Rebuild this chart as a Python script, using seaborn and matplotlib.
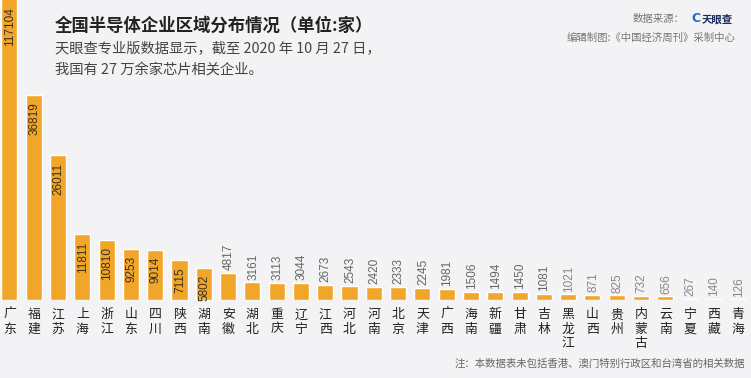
import matplotlib
matplotlib.use('Agg')
import matplotlib.pyplot as plt
import seaborn as sns
import pandas as pd

# ------------------ DATA ------------------
provinces = ["广东", "福建", "江苏", "上海", "浙江", "山东", "四川", "陕西", "湖南",
             "安徽", "湖北", "重庆", "辽宁", "江西", "河北", "河南", "北京", "天津",
             "广西", "海南", "新疆", "甘肃", "吉林", "黑龙江", "山西", "贵州", "内蒙古",
             "云南", "宁夏", "西藏", "青海"]
counts = [117104, 36819, 26011, 11811, 10810, 9253, 9014, 7115, 5802,
          4817, 3161, 3113, 3044, 2673, 2543, 2420, 2333, 2245,
          1981, 1506, 1494, 1450, 1081, 1021, 871, 825, 732,
          656, 267, 140, 126]
n_inside = 9  # labels drawn inside the bar for the tallest ones

df = pd.DataFrame({"province": provinces, "count": counts})

bg = "#f3f3f5"
bar_color = "#f2a629"

sns.set_style("white")
plt.rcParams['font.family'] = ['Noto Sans CJK SC', 'DejaVu Sans']

fig = plt.figure(figsize=(7.51, 3.78), dpi=100, facecolor=bg)
ax = fig.add_axes([0, 78 / 378, 1, 300 / 378])
ax.set_facecolor(bg)

sns.barplot(data=df, x="province", y="count", color=bar_color,
            width=0.66, saturation=1, ax=ax)

ymax = 54000
ax.set_ylim(0, ymax)
ax.set_xlim(-0.39, 30.53)
sns.despine(ax=ax, left=True, bottom=True)
ax.set_yticks([])
ax.set_xlabel("")
ax.set_ylabel("")

# stacked (vertical) province names
ax.set_xticks(range(len(provinces)))
ax.set_xticklabels(["\n".join(p) for p in provinces], fontsize=9.3,
                   color="#222222", linespacing=1.12)
ax.tick_params(axis="x", length=0, pad=6)

# value labels
for i, v in enumerate(counts):
    if i < n_inside:
        ax.annotate(str(v), (i, min(v, ymax)), xytext=(0.5, -5),
                    textcoords="offset points", rotation=90, ha="center",
                    va="top", fontsize=8.5, color="#3a3020",
                    family="Liberation Sans", annotation_clip=False)
    else:
        ax.annotate(str(v), (i, v), xytext=(0.5, 2),
                    textcoords="offset points", rotation=90, ha="center",
                    va="bottom", fontsize=8.5,
                    color="#666666" if i < 23 else "#888888",
                    family="Liberation Sans")

# titles and notes
fig.text(55 / 751, 1 - 26 / 378, "全国半导体企业区域分布情况（单位:家）",
         fontsize=12.5, fontweight="bold", color="#222222", va="center")
fig.text(55 / 751, 1 - 48 / 378, "天眼查专业版数据显示，截至 2020 年 10 月 27 日，",
         fontsize=10.3, color="#444444", va="center")
fig.text(55 / 751, 1 - 70 / 378, "我国有 27 万余家芯片相关企业。",
         fontsize=10.3, color="#444444", va="center")

fig.text(684 / 751, 1 - 19 / 378, "数据来源：", fontsize=7.5, color="#777777",
         va="center", ha="right")
fig.text(691 / 751, 1 - 19 / 378, "C", fontsize=9, fontweight="bold",
         color="#1a6fc9", va="center", family="DejaVu Sans")
fig.text(702 / 751, 1 - 19 / 378, "天眼查", fontsize=7.5, fontweight="bold",
         color="#1b2f5a", va="center")
fig.text(735 / 751, 1 - 38 / 378, "编辑制图:《中国经济周刊》采制中心",
         fontsize=7.5, color="#777777", va="center", ha="right")

fig.text(745 / 751, 1 - 364 / 378, "注：本数据表未包括香港、澳门特别行政区和台湾省的相关数据",
         fontsize=7.5, color="#666666", va="center", ha="right")

plt.savefig("out.png", dpi=100, facecolor=bg)
